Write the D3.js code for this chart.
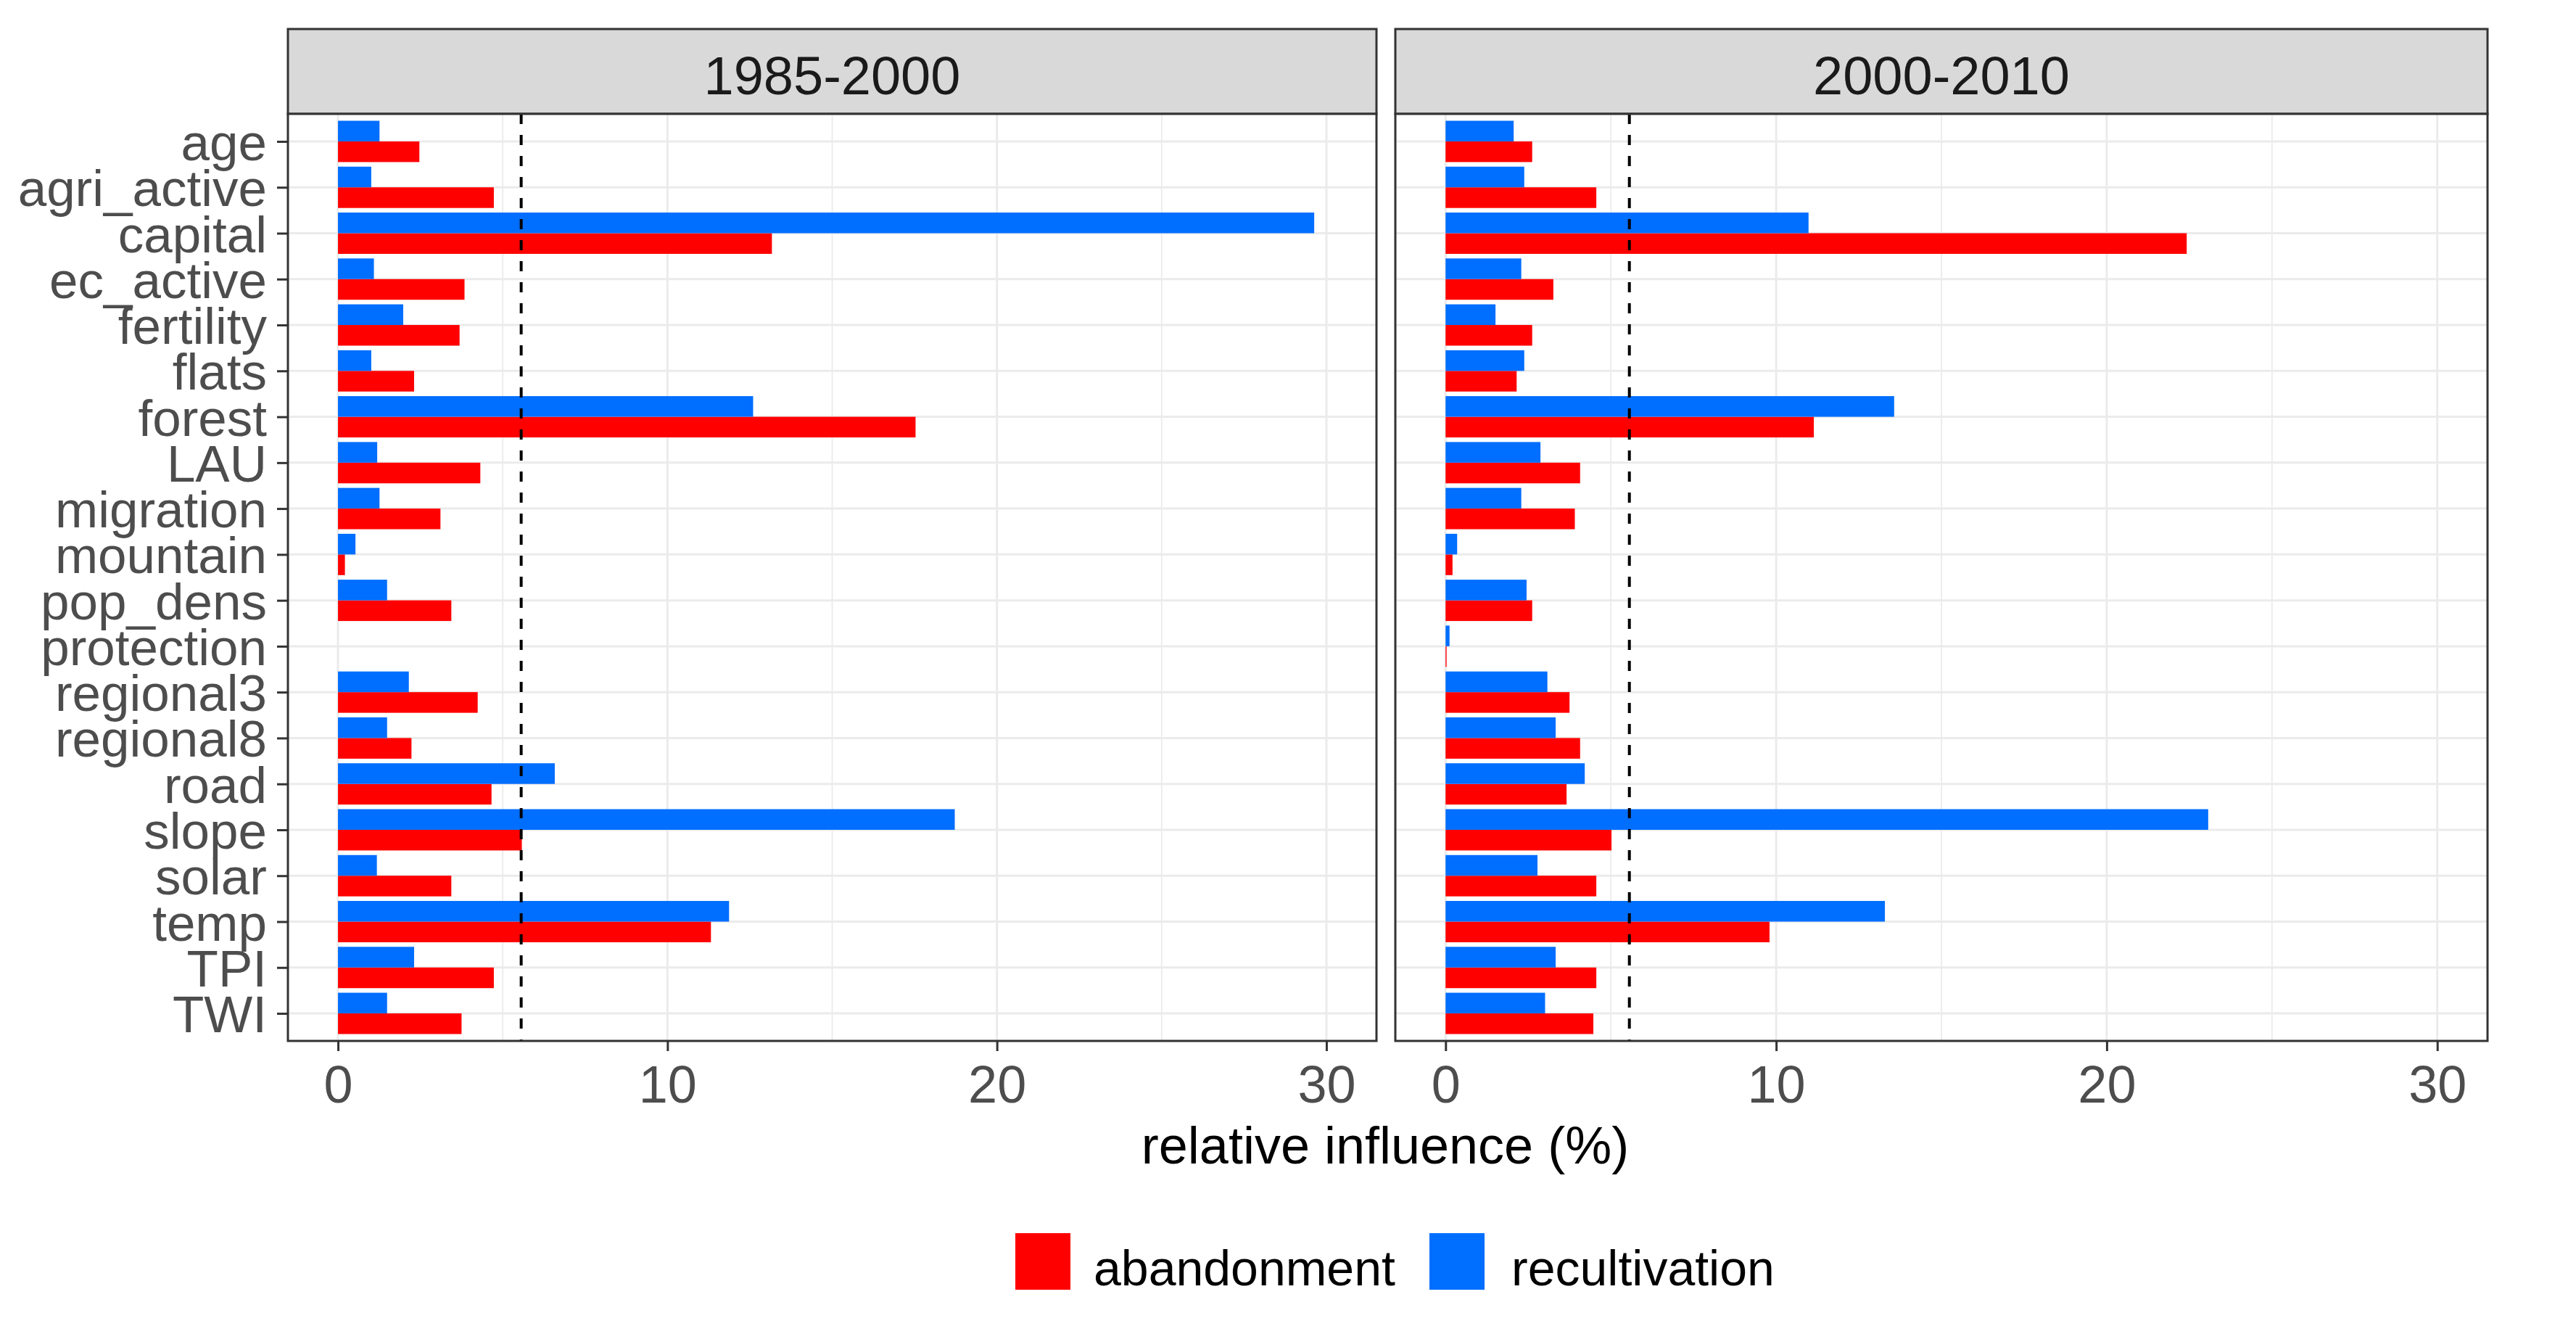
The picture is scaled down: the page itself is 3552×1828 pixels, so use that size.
<!DOCTYPE html>
<html>
<head>
<meta charset="utf-8">
<script src="https://cdn.jsdelivr.net/npm/d3@7"></script>
<style>
  html, body { margin: 0; padding: 0; background: #ffffff; }
  svg { display: block; }
</style>
</head>
<body>
<svg id="chart" width="3552" height="1828"></svg>
<script>
// ---------------- DATA ----------------
const categories = ["age", "agri_active", "capital", "ec_active", "fertility", "flats", "forest",
  "LAU", "migration", "mountain", "pop_dens", "protection", "regional3", "regional8",
  "road", "slope", "solar", "temp", "TPI", "TWI"];

const periods = ["1985-2000", "2000-2010"];
const seriesNames = ["abandonment", "recultivation"];

const abandonment_1985 = [2.47, 4.73, 13.17, 3.84, 3.69, 2.31, 17.53, 4.32, 3.11, 0.21,
  3.44, 0.00, 4.24, 2.23, 4.66, 5.58, 3.44, 11.32, 4.73, 3.75];
const recultivation_1985 = [1.26, 1.01, 29.63, 1.09, 1.98, 1.01, 12.60, 1.19, 1.26, 0.53,
  1.49, 0.00, 2.15, 1.49, 6.58, 18.72, 1.18, 11.87, 2.31, 1.49];

const abandonment_2000 = [2.62, 4.56, 22.42, 3.26, 2.62, 2.15, 11.14, 4.07, 3.91, 0.21,
  2.62, 0.03, 3.75, 4.07, 3.66, 5.02, 4.56, 9.80, 4.56, 4.47];
const recultivation_2000 = [2.06, 2.38, 10.98, 2.29, 1.51, 2.38, 13.57, 2.87, 2.29, 0.35,
  2.45, 0.12, 3.08, 3.33, 4.21, 23.07, 2.78, 13.29, 3.33, 3.01];

const xTicks = [0, 10, 20, 30];
const xMinorTicks = [5, 15, 25];
const thresholdValue = 5.56;
const xTitle = "relative influence (%)";

// -------------- BUILD TABLE --------------
const panelData = [
  { period: periods[0], abandonment: abandonment_1985, recultivation: recultivation_1985 },
  { period: periods[1], abandonment: abandonment_2000, recultivation: recultivation_2000 }
];

// -------------- LAYOUT --------------
const svg = d3.select("#chart");
const font = "'Liberation Sans', Arial, Helvetica, sans-serif";
const colors = { abandonment: "#FF0000", recultivation: "#006EFF" };

const stripTop = 40, panelTop = 157, panelBottom = 1435;
const panelsX = [{ left: 397, right: 1898 }, { left: 1924, right: 3430 }];

const y = d3.scalePoint().domain(categories).range([panelTop, panelBottom]).padding(0.6);
const step = y.step();
const inner = d3.scaleBand().domain(["recultivation", "abandonment"])
  .range([-0.45 * step, 0.45 * step]).padding(0);

panelData.forEach((pd, pi) => {
  const px = panelsX[pi];
  const x = d3.scaleLinear().domain([-1.52, 31.52]).range([px.left, px.right]);
  const g = svg.append("g");

  // strip
  g.append("rect")
    .attr("x", px.left).attr("y", stripTop)
    .attr("width", px.right - px.left).attr("height", panelTop - stripTop)
    .attr("fill", "#D9D9D9").attr("stroke", "#333333").attr("stroke-width", 3);
  g.append("text")
    .attr("x", (px.left + px.right) / 2).attr("y", 130)
    .attr("text-anchor", "middle")
    .attr("font-family", font).attr("font-size", 74).attr("fill", "#1A1A1A")
    .text(pd.period);

  // panel background
  g.append("rect")
    .attr("x", px.left).attr("y", panelTop)
    .attr("width", px.right - px.left).attr("height", panelBottom - panelTop)
    .attr("fill", "#FFFFFF");

  // minor grid
  g.selectAll(".minor").data(xMinorTicks).enter().append("line")
    .attr("x1", d => x(d)).attr("x2", d => x(d))
    .attr("y1", panelTop).attr("y2", panelBottom)
    .attr("stroke", "#EBEBEB").attr("stroke-width", 1.8);
  // major grid vertical
  g.selectAll(".majorx").data(xTicks).enter().append("line")
    .attr("x1", d => x(d)).attr("x2", d => x(d))
    .attr("y1", panelTop).attr("y2", panelBottom)
    .attr("stroke", "#EBEBEB").attr("stroke-width", 3);
  // major grid horizontal
  g.selectAll(".majory").data(categories).enter().append("line")
    .attr("x1", px.left).attr("x2", px.right)
    .attr("y1", d => y(d)).attr("y2", d => y(d))
    .attr("stroke", "#EBEBEB").attr("stroke-width", 3);

  // bars
  const rows = [];
  categories.forEach((c, i) => {
    seriesNames.forEach(s => rows.push({ cat: c, series: s, value: pd[s][i] }));
  });
  g.selectAll(".bar").data(rows).enter().append("rect")
    .attr("x", x(0))
    .attr("y", d => y(d.cat) + inner(d.series))
    .attr("width", d => Math.max(0, x(d.value) - x(0)))
    .attr("height", inner.bandwidth())
    .attr("fill", d => colors[d.series]);

  // threshold dashed line
  g.append("line")
    .attr("x1", x(thresholdValue)).attr("x2", x(thresholdValue))
    .attr("y1", panelTop).attr("y2", panelBottom)
    .attr("stroke", "#000000").attr("stroke-width", 4)
    .attr("stroke-dasharray", "14,15");

  // panel border
  g.append("rect")
    .attr("x", px.left).attr("y", panelTop)
    .attr("width", px.right - px.left).attr("height", panelBottom - panelTop)
    .attr("fill", "none").attr("stroke", "#333333").attr("stroke-width", 3);

  // x axis
  const xAxis = d3.axisBottom(x).tickValues(xTicks).tickSize(14).tickPadding(0).tickFormat(d3.format("d"));
  const ax = g.append("g").attr("transform", `translate(0,${panelBottom})`).call(xAxis);
  ax.select(".domain").remove();
  ax.selectAll(".tick line").attr("stroke", "#333333").attr("stroke-width", 3);
  ax.selectAll(".tick text")
    .attr("font-family", font).attr("font-size", 72).attr("fill", "#4D4D4D")
    .attr("y", 85).attr("dy", 0);

  // y axis (left panel only)
  if (pi === 0) {
    const yAxis = d3.axisLeft(y).tickSize(15).tickPadding(14);
    const ay = g.append("g").attr("transform", `translate(${px.left},0)`).call(yAxis);
    ay.select(".domain").remove();
    ay.selectAll(".tick line").attr("stroke", "#333333").attr("stroke-width", 3);
    ay.selectAll(".tick text")
      .attr("font-family", font).attr("font-size", 71).attr("fill", "#4D4D4D")
      .attr("dy", "0.36em");
  }
});

// x axis title
svg.append("text")
  .attr("x", 1910).attr("y", 1604)
  .attr("text-anchor", "middle")
  .attr("font-family", font).attr("font-size", 72).attr("fill", "#000000")
  .text(xTitle);

// legend
const legendItems = [
  { name: "abandonment", keyX: 1400, textX: 1508 },
  { name: "recultivation", keyX: 1971, textX: 2084 }
];
const lg = svg.append("g");
lg.selectAll("rect").data(legendItems).enter().append("rect")
  .attr("x", d => d.keyX).attr("y", 1700)
  .attr("width", 76).attr("height", 78)
  .attr("fill", d => colors[d.name]);
lg.selectAll("text").data(legendItems).enter().append("text")
  .attr("x", d => d.textX).attr("y", 1772)
  .attr("font-family", font).attr("font-size", 68).attr("fill", "#000000")
  .text(d => d.name);
</script>
</body>
</html>
